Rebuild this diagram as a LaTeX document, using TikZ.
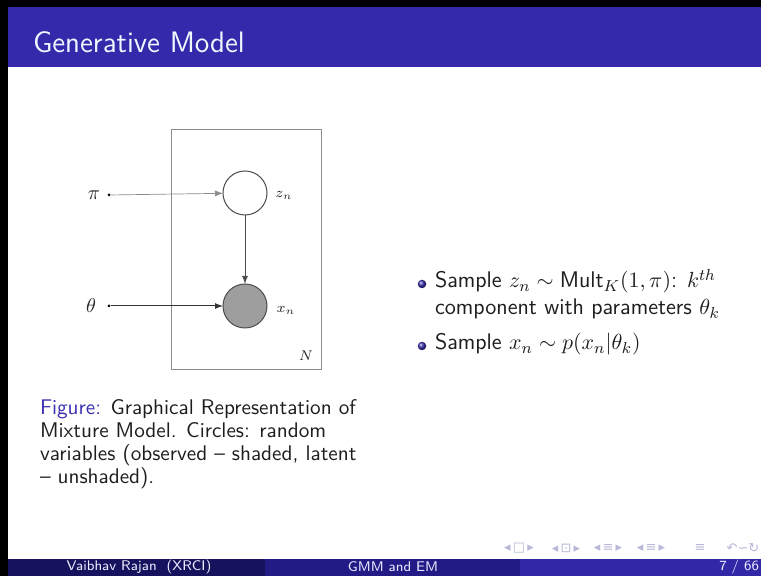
\documentclass[tikz,border=0pt]{standalone}
\usepackage{fontspec}
\usepackage{amsmath}
\newfontfamily\djv{DejaVu Sans}
\usetikzlibrary{arrows.meta,shadings}
\definecolor{titlebar}{HTML}{3429AA}
\definecolor{footA}{HTML}{17125E}
\definecolor{footB}{HTML}{221B86}
\definecolor{footC}{HTML}{3128A8}
\definecolor{struct}{HTML}{3A30B0}
\definecolor{bodytext}{HTML}{1E1E1E}
\definecolor{navgray}{HTML}{B8B8D8}
\begin{document}
\begin{tikzpicture}[x=0.5pt,y=-0.5pt,
  every node/.style={inner sep=0pt,outer sep=0pt,font=\sffamily},
  bodyline/.style={anchor=base west,text=bodytext,font=\sffamily\fontsize{11.3}{13.6}\selectfont},
  capline/.style={anchor=base west,text=bodytext,font=\sffamily\fontsize{10.6}{11.4}\selectfont},
  rv/.style={circle,draw=black!70,line width=0.5pt,minimum size=44*0.5pt},
  param/.style={circle,fill=black,minimum size=3*0.5pt},
  plabel/.style={font=\fontsize{10}{12}\selectfont,text=black!85},
  slabel/.style={font=\fontsize{7.5}{8}\selectfont,text=black!85},
  edge/.style={-{Latex[length=4pt,width=3pt]},line width=0.5pt},
  footlabel/.style={text=white!92!blue,font=\sffamily\fontsize{7}{8}\selectfont},
  navsym/.style={text=navgray,font=\djv\fontsize{6.5}{7}\selectfont},
  ballbullet/.style={circle,minimum size=8.5*0.5pt,ball color=struct}
]
\useasboundingbox (0,0) rectangle (761,576);
\fill[white] (0,0) rectangle (761,576);
% black frame edges
\fill[black] (0,0) rectangle (8,576);
\fill[black] (0,0) rectangle (761,7);
% title bar
\fill[titlebar] (8,7) rectangle (761,67);
\node[anchor=west,text=white!92!cyan,font=\sffamily\fontsize{14.8}{17}\selectfont] (title) at (33,42) {Generative Model};

% graphical model
\draw[black!45,line width=0.5pt] (171,130) rectangle (321,370);
\node[rv,fill=white] (z) at (245,193) {};
\node[rv,fill=black!38] (x) at (245,306) {};
\node[param] (pid) at (109,195) {};
\node[param] (thd) at (109,306) {};
\node[plabel] (pil) at (94,195) {$\pi$};
\node[plabel] (thl) at (91,306) {$\theta$};
\node[slabel] (zl) at (284,195) {$z_n$};
\node[slabel] (xl) at (286,310) {$x_n$};
\node[slabel] (nl) at (306,356) {$N$};
\draw[edge,black!45,line width=0.35pt] (pid) -- (z);
\draw[edge,black!80] (thd) -- (x);
\draw[edge,black!70] (z) -- (x);

% caption
\node[capline] (c1) at (40,415) {\textcolor{struct}{Figure:} Graphical Representation of};
\node[capline] (c2) at (40,438) {Mixture Model. Circles: random};
\node[capline] (c3) at (40,461) {variables (observed -- shaded, latent};
\node[capline] (c4) at (40,484) {-- unshaded).};

% bullets
\node[ballbullet] (b1) at (422,284) {};
\node[bodyline] (l1) at (435,288) {Sample $z_n \sim \mathsf{Mult}_K(1,\pi)$: $k^{th}$};
\node[bodyline] (l2) at (435,315) {component with parameters $\theta_k$};
\node[ballbullet] (b2) at (422,346) {};
\node[bodyline] (l3) at (435,350) {Sample $x_n \sim p(x_n|\theta_k)$};

% navigation symbols
\node[navsym] (nav1) at (519,548) {◂\,□\,▸};
\node[navsym] (nav2) at (566,548) {◂\,⊡\,▸};
\node[navsym] (nav3) at (608,548) {◂\,≡\,▸};
\node[navsym] (nav4) at (651,548) {◂\,≡\,▸};
\node[navsym] (nav5) at (700,548) {≡};
\node[navsym] (nav6) at (743,548) {↶∽↻};

% footer
\fill[footA] (8,559) rectangle (265,576);
\fill[footB] (265,559) rectangle (520,576);
\fill[footC] (520,559) rectangle (761,576);
\node[footlabel] (fa) at (139,567) {Vaibhav Rajan\ \ (XRCI)};
\node[footlabel] (fb) at (393,567) {GMM and EM};
\node[footlabel,anchor=east] (fc) at (759,567) {7 / 66};
\end{tikzpicture}
\end{document}
